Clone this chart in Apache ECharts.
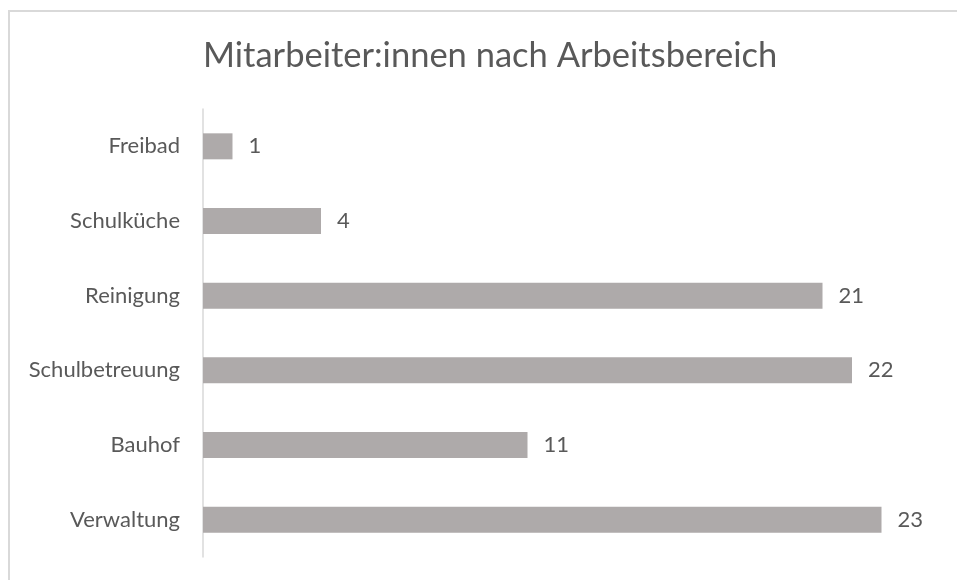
<!DOCTYPE html>
<html>
<head>
<meta charset="utf-8">
<script src="https://cdn.jsdelivr.net/npm/echarts@6/dist/echarts.min.js"></script>
<style>
  html, body { margin: 0; padding: 0; background: #fff; }
  #chart { width: 957px; height: 580px; }
</style>
</head>
<body>
<div id="chart"></div>
<script>
// bottom to top, as the category axis draws them
const categories = ['Verwaltung', 'Bauhof', 'Schulbetreuung', 'Reinigung', 'Schulküche', 'Freibad']
const staffCounts = [23, 11, 22, 21, 4, 1]
const chartTitle = 'Mitarbeiter:innen nach Arbeitsbereich'

const textColor = '#595959'
const fontFamily = 'Lato, "Open Sans", sans-serif'

const chart = echarts.init(document.getElementById('chart'))
chart.setOption({
  animation: false,
  title: {
    text: chartTitle,
    left: 198, // title sits a bit right of the middle
    top: 33,
    textStyle: {
      color: textColor,
      fontFamily,
      fontWeight: 'normal',
      fontSize: 34.5
    }
  },
  graphic: [{
    // chart frame, only its top and left edges are in view
    type: 'rect',
    silent: true,
    shape: { x: 9, y: 11, width: 1000, height: 1000 },
    style: { fill: 'none', stroke: '#d9d9d9', lineWidth: 2 }
  }],
  grid: {
    left: 203,
    top: 109,
    right: 16.5,
    bottom: 23,
    containLabel: false
  },
  xAxis: {
    type: 'value',
    min: 0,
    max: 25,
    show: false
  },
  yAxis: {
    type: 'category',
    data: categories,
    axisLine: { lineStyle: { color: '#d9d9d9', width: 1.5 } },
    axisTick: { show: false },
    axisLabel: {
      color: textColor,
      fontFamily,
      fontSize: 22,
      margin: 23
    }
  },
  series: [{
    type: 'bar',
    data: staffCounts,
    barWidth: 26,
    itemStyle: { color: '#aeaaaa' },
    label: {
      show: true,
      position: 'right',
      distance: 16,
      color: textColor,
      fontFamily,
      fontSize: 22
    }
  }]
})
</script>
</body>
</html>
